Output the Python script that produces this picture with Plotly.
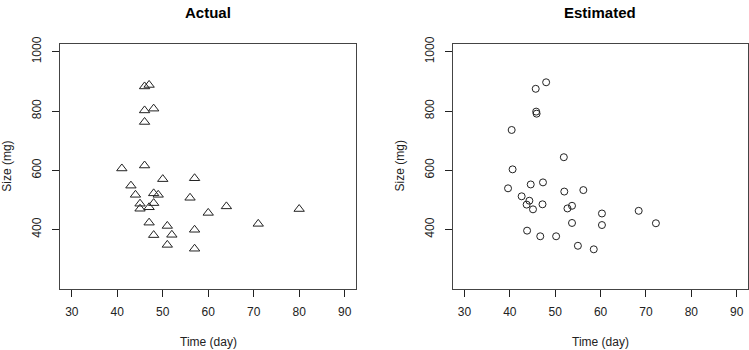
import plotly.graph_objects as go

# Actual data (triangles)
actual_time = [41, 43, 44, 45, 45, 46, 47, 46, 48, 46, 46, 47, 47, 48, 48, 49, 48, 50,
               51, 51, 52, 56, 57, 57, 57, 60, 64, 71, 80]
actual_size = [606, 548, 517, 487, 470, 883, 888, 802, 808, 763, 616, 475, 423, 489, 522, 517, 381, 570,
               412, 348, 382, 507, 573, 399, 335, 456, 478, 419, 469]

# Estimated data (circles)
est_time = [39.6, 40.4, 40.6, 42.6, 44.3, 43.7, 44.6, 45.1, 43.8, 45.7, 48.0, 45.8, 45.9, 47.3, 47.2,
            46.7, 50.2, 51.9, 52.0, 52.7, 53.7, 53.7, 56.2, 55.0, 58.5, 60.3, 60.3, 68.4, 72.2]
est_size = [539, 736, 603, 512, 497, 484, 552, 468, 396, 875, 897, 798, 791, 559, 485,
            377, 377, 644, 528, 471, 480, 422, 533, 345, 333, 454, 415, 463, 421]

x_ticks = [30, 40, 50, 60, 70, 80, 90]
y_ticks = [400, 600, 800, 1000]
titles = ["Actual", "Estimated"]
x_title = "Time (day)"
y_title = "Size (mg)"

W, H = 749, 350
font_family = "Liberation Sans, Arial, sans-serif"
ink = "#222222"

fig = go.Figure()
fig.add_trace(go.Scatter(x=actual_time, y=actual_size, mode="markers", xaxis="x", yaxis="y",
                         marker=dict(symbol="triangle-up-open", size=9, color=ink, line=dict(width=1, color=ink)),
                         showlegend=False))
fig.add_trace(go.Scatter(x=est_time, y=est_size, mode="markers", xaxis="x2", yaxis="y2",
                         marker=dict(symbol="circle-open", size=7, color=ink, line=dict(width=1, color=ink)),
                         showlegend=False))

boxes = [(60, 356), (452.7, 748)]
top, bottom = 37.7, 287.3
ydom = [1 - bottom / H, 1 - top / H]

def xaxis_cfg(x0, x1, anchor):
    return dict(domain=[x0 / W, x1 / W], range=[27.4, 92.5], anchor=anchor,
                tickvals=x_ticks, ticktext=[str(v) for v in x_ticks],
                ticks="outside", ticklen=7, tickwidth=1, tickcolor=ink,
                showline=True, linecolor="#444444", linewidth=1, mirror=True,
                showgrid=False, zeroline=False, ticklabelstandoff=5,
                tickfont=dict(family=font_family, size=12, color=ink))

def yaxis_cfg(anchor):
    return dict(domain=ydom, range=[200.5, 1026.5], anchor=anchor,
                tickvals=y_ticks, ticktext=[str(v) for v in y_ticks],
                ticks="outside", ticklen=7, tickwidth=1, tickcolor=ink,
                showline=True, linecolor="#444444", linewidth=1, mirror=True,
                showgrid=False, zeroline=False, tickangle=-90, ticklabelstandoff=6,
                tickfont=dict(family=font_family, size=12, color=ink))

fig.update_layout(
    width=W, height=H, margin=dict(l=0, r=0, t=0, b=0),
    paper_bgcolor="white", plot_bgcolor="white",
    xaxis=xaxis_cfg(*boxes[0], "y"), yaxis=yaxis_cfg("x"),
    xaxis2=xaxis_cfg(*boxes[1], "y2"), yaxis2=yaxis_cfg("x2"),
)

annotations = []
for (x0, x1), t in zip(boxes, titles):
    cx = (x0 + x1) / 2
    annotations.append(dict(text="<b>" + t + "</b>", x=cx / W, y=1 - 5.5 / H, xref="paper", yref="paper",
                            xanchor="center", yanchor="middle", showarrow=False,
                            font=dict(family=font_family, size=15, color="black")))
    annotations.append(dict(text=x_title, x=cx / W, y=1 - 341.5 / H, xref="paper", yref="paper",
                            xanchor="center", yanchor="middle", showarrow=False,
                            font=dict(family=font_family, size=12, color=ink)))
    annotations.append(dict(text=y_title, x=(x0 - 52.5) / W, y=1 - ((top + bottom) / 2) / H,
                            xref="paper", yref="paper", textangle=-90,
                            xanchor="center", yanchor="middle", showarrow=False,
                            font=dict(family=font_family, size=12, color=ink)))
fig.update_layout(annotations=annotations)

# remove the default page margin so the figure sits at the window origin
fig.write_html("out.html", config={"displayModeBar": False},
               post_script="document.body.style.margin='0px';")
